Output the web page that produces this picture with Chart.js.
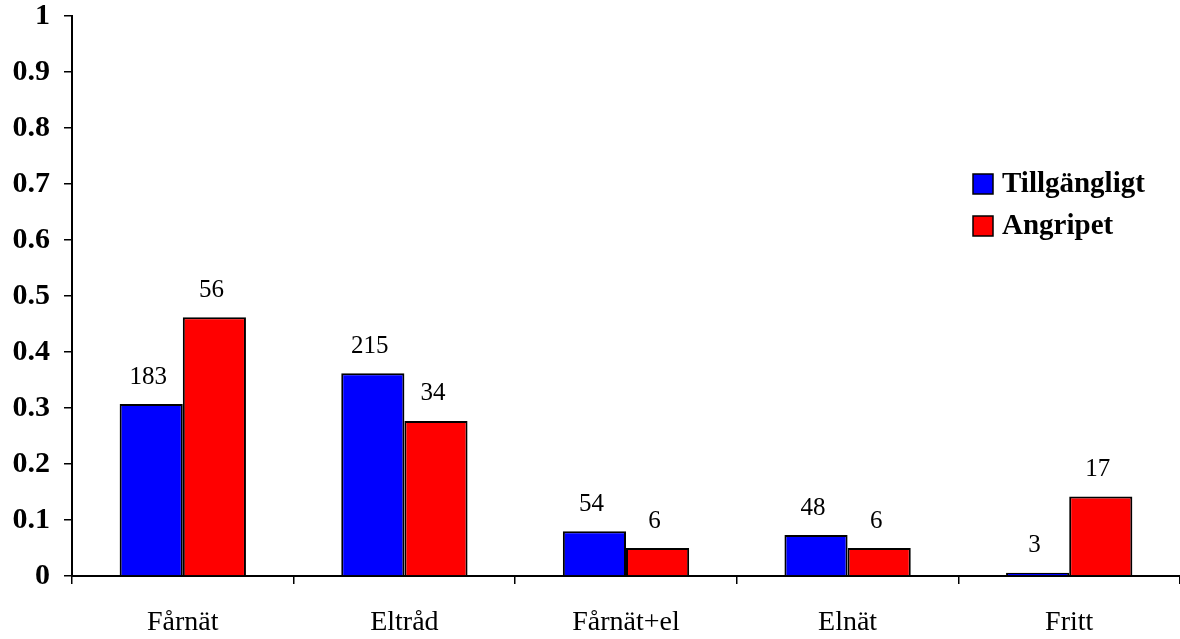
<!DOCTYPE html>
<html>
<head>
<meta charset="utf-8">
<script src="https://cdn.jsdelivr.net/npm/chart.js@4/dist/chart.umd.min.js"></script>
<style>
  html, body { margin: 0; padding: 0; background: #fff; }
  #wrap { width: 1180px; height: 639px; position: relative; }
</style>
</head>
<body>
<div id="wrap"><canvas id="c" width="1180" height="639"></canvas></div>
<script>
const categories = ['Fårnät', 'Eltråd', 'Fårnät+el', 'Elnät', 'Fritt'];
const seriesNames = ['Tillgängligt', 'Angripet'];
const tillgangligt = [0.307, 0.362, 0.080, 0.073, 0.006];
const angripet = [0.462, 0.277, 0.050, 0.050, 0.142];
const tillgangligtCounts = [183, 215, 54, 48, 3];
const angripetCounts = [56, 34, 6, 6, 17];
const yTickValues = [0, 0.1, 0.2, 0.3, 0.4, 0.5, 0.6, 0.7, 0.8, 0.9, 1];

const SERIF = '"Liberation Serif", "Times New Roman", serif';

const valueLabels = {
  id: 'valueLabels',
  afterDatasetsDraw(chart) {
    const ctx = chart.ctx;
    const counts = [tillgangligtCounts, angripetCounts];
    ctx.save();
    ctx.font = '25px ' + SERIF;
    ctx.fillStyle = '#000';
    ctx.textAlign = 'center';
    ctx.textBaseline = 'middle';
    chart.data.datasets.forEach((ds, di) => {
      const meta = chart.getDatasetMeta(di);
      meta.data.forEach((bar, i) => {
        ctx.fillText(String(counts[di][i]), bar.x - 3, bar.y - 27);
      });
    });
    ctx.restore();
  }
};

const customLegend = {
  id: 'customLegend',
  afterDraw(chart) {
    const ctx = chart.ctx;
    ctx.save();
    ctx.font = 'bold 29px ' + SERIF;
    ctx.textBaseline = 'middle';
    ctx.textAlign = 'left';
    chart.data.datasets.forEach((ds, i) => {
      const y = 184 + i * 42;
      ctx.fillStyle = ds.backgroundColor;
      ctx.fillRect(973, y - 10, 20, 20);
      ctx.strokeStyle = '#000';
      ctx.lineWidth = 1.5;
      ctx.strokeRect(973, y - 10, 20, 20);
      ctx.fillStyle = '#000';
      ctx.fillText(ds.label, 1002, y + 1);
    });
    ctx.restore();
  }
};

new Chart(document.getElementById('c'), {
  type: 'bar',
  data: {
    labels: categories,
    datasets: [
      { label: seriesNames[0], data: tillgangligt, backgroundColor: '#0000FF', borderColor: '#000', borderWidth: 2 },
      { label: seriesNames[1], data: angripet, backgroundColor: '#FF0000', borderColor: '#000', borderWidth: 2 }
    ]
  },
  options: {
    responsive: false,
    animation: false,
    devicePixelRatio: 1,
    layout: { padding: { top: 16, right: 0, left: 0, bottom: 0 } },
    datasets: { bar: { categoryPercentage: 0.57, barPercentage: 1.0 } },
    plugins: {
      legend: { display: false },
      tooltip: { enabled: false }
    },
    scales: {
      x: {
        grid: { drawOnChartArea: false, drawTicks: true, tickLength: 8, color: '#000', lineWidth: 1.5, offset: true },
        border: { color: '#000', width: 2 },
        ticks: { color: '#000', font: { family: SERIF, size: 28 }, padding: 22, maxRotation: 0 },
        afterFit(scale) { scale.height = 63; scale.paddingLeft = 0; scale.paddingRight = 0; }
      },
      y: {
        min: 0,
        max: 1,
        afterBuildTicks(scale) { scale.ticks = yTickValues.map(v => ({ value: v })); },
        grid: { drawOnChartArea: false, drawTicks: true, tickLength: 8, color: '#000', lineWidth: 1.5 },
        border: { color: '#000', width: 2 },
        ticks: {
          color: '#000',
          font: { family: SERIF, size: 30, weight: 'bold' },
          padding: 14,
          callback: (v) => String(Number(v.toFixed(1)))
        },
        afterFit(scale) { scale.width = 72; scale.paddingTop = 0; scale.paddingBottom = 0; }
      }
    }
  },
  plugins: [valueLabels, customLegend]
});
</script>
</body>
</html>
